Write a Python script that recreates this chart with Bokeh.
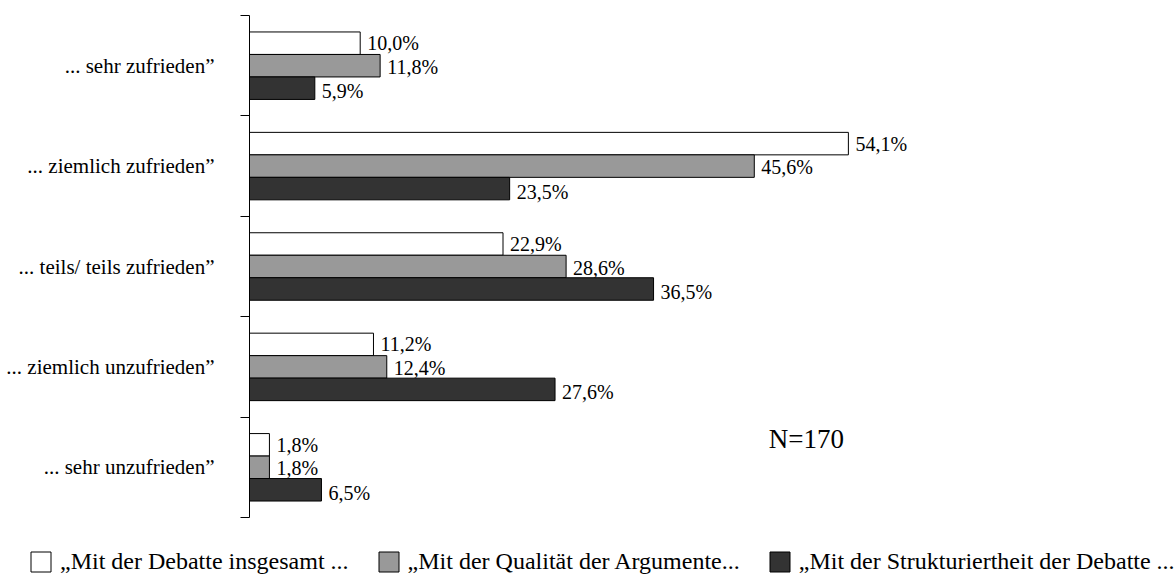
from bokeh.plotting import figure
from bokeh.layouts import column
from bokeh.models import Range1d, FixedTicker, Legend, LegendItem, ColumnDataSource
from bokeh.core.properties import value
from bokeh.embed import file_html
from bokeh.resources import INLINE

categories = ["... sehr zufrieden”", "... ziemlich zufrieden”", "... teils/ teils zufrieden”",
              "... ziemlich unzufrieden”", "... sehr unzufrieden”"]
series_names = ["„Mit der Debatte insgesamt ...", "„Mit der Qualität der Argumente...",
                "„Mit der Strukturiertheit der Debatte ..."]
debatte = [10.0, 54.1, 22.9, 11.2, 1.8]
qualitaet = [11.8, 45.6, 28.6, 12.4, 1.8]
struktur = [5.9, 23.5, 36.5, 27.6, 6.5]
note = "N=170"

colors = ["#ffffff", "#999999", "#333333"]
FONT = "Liberation Serif"

px_per_pct = 11.07
frame_w = 926
frame_h = 502

p = figure(frame_width=frame_w, frame_height=frame_h, output_backend="svg", toolbar_location=None,
           x_range=Range1d(0, frame_w / px_per_pct), y_range=Range1d(5, 0),
           min_border_left=249, min_border_top=15, min_border_right=0, min_border_bottom=10)
p.outline_line_color = None
p.grid.visible = False
p.xaxis.visible = False

centers = [i + 0.5 for i in range(len(categories))]
bh = 0.224
offsets = [-bh, 0.0, bh]
label_dy = [0, 1, 3]
for k, vals in enumerate([debatte, qualitaet, struktur]):
    ys = [c + offsets[k] for c in centers]
    src = ColumnDataSource(dict(y=ys, right=vals, lab=[f"{v:.1f}%".replace(".", ",") for v in vals]))
    p.hbar(y="y", left=0, right="right", height=bh, source=src,
           fill_color=colors[k], line_color="#000000", line_width=1)
    p.text(x="right", y="y", text="lab", source=src, x_offset=7, y_offset=label_dy[k],
           text_baseline="middle", text_align="left", text_font=value(FONT),
           text_font_size="20px", text_color="#000000")

p.text(x=[46.9], y=[4.22], text=[note], text_baseline="middle", text_align="left",
       text_font=value(FONT), text_font_size="27px", text_color="#000000")

ax = p.yaxis[0]
ax.ticker = FixedTicker(ticks=centers, minor_ticks=list(range(len(categories) + 1)))
ax.major_label_overrides = {c: categories[i] for i, c in enumerate(centers)}
ax.major_tick_out = 0
ax.major_tick_in = 0
ax.minor_tick_out = 9
ax.minor_tick_in = 0
ax.minor_tick_line_color = "#000000"
ax.axis_line_color = "#000000"
ax.major_label_standoff = 26
ax.major_label_text_font = FONT
ax.major_label_text_font_size = "21px"
ax.major_label_text_color = "#000000"

# legend strip below the chart (its own frame spans the full width)
lf = figure(width=frame_w + 249, height=48, output_backend="svg", toolbar_location=None,
            x_range=Range1d(0, 1), y_range=Range1d(0, 1),
            min_border_left=0, min_border_right=0, min_border_top=0, min_border_bottom=0)
lf.frame_align = False
lf.axis.visible = False
lf.grid.visible = False
lf.outline_line_color = None
leg_renderers = []
for k in range(3):
    r = lf.hbar(y=[-10], left=[0], right=[1], height=1, fill_color=colors[k],
                line_color="#000000", line_width=1)
    leg_renderers.append(r)

legend = Legend(items=[LegendItem(label=series_names[k], renderers=[leg_renderers[k]]) for k in range(3)],
                orientation="horizontal", label_text_font=FONT, label_text_font_size="24px",
                label_text_color="#000000", glyph_width=25, glyph_height=25, label_standoff=7,
                spacing=27, border_line_color=None, background_fill_alpha=0,
                margin=0, padding=0, label_height=19)
legend.location = (28, 0)
lf.add_layout(legend, "center")

layout = column(p, lf, spacing=0)
html = file_html(layout, INLINE)
open("out.html", "w").write(html)
